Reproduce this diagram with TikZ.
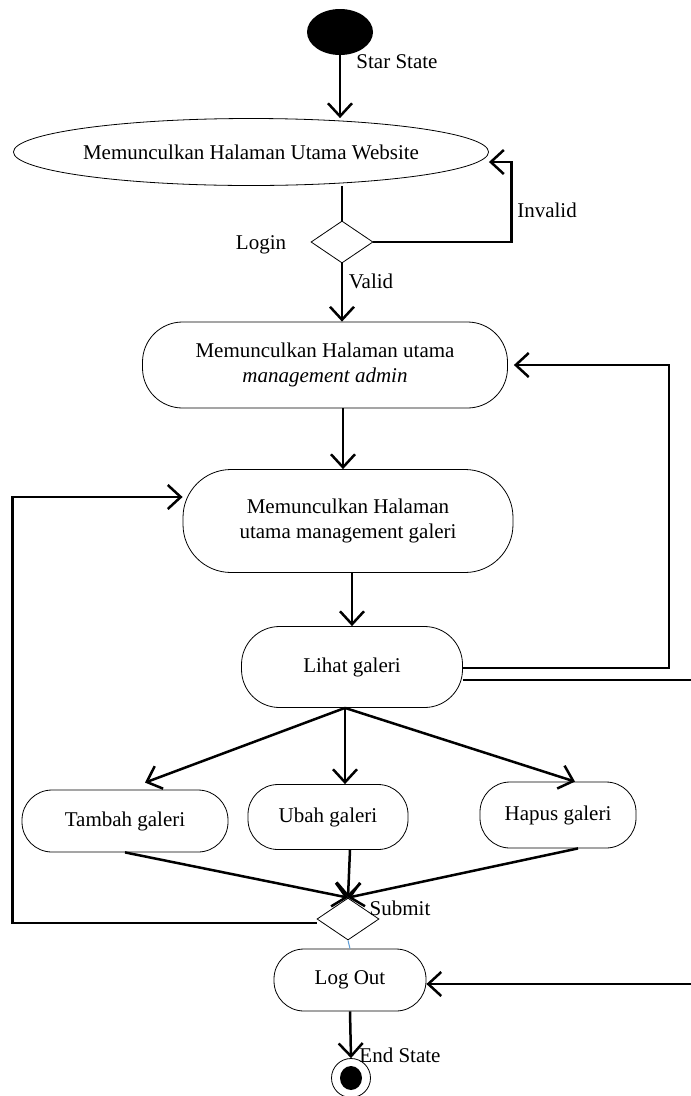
\documentclass[tikz,border=0pt]{standalone}
\usepackage{fontspec}
\setmainfont{Liberation Serif}
\usetikzlibrary{arrows.meta,shapes.geometric}

\begin{document}
\begin{tikzpicture}
  [x=1pt,y=-1pt,font=\fontsize{21}{25}\selectfont,
    act/.style={draw,line width=0.8pt,rounded corners=#1,
      inner sep=0pt,align=center},
    dec/.style={draw,diamond,line width=0.8pt,inner sep=0pt,
      minimum width=62pt,minimum height=42pt},
    con/.style={line width=2.5pt,
      -{Straight Barb[length=13pt,width=24pt,line width=2.5pt]}},
    lin/.style={line width=2.5pt},
    lab/.style={inner sep=0pt}]
  \useasboundingbox (0,0) rectangle (691,1096);
  \node[fill,ellipse,inner sep=0pt,minimum width=66pt,
    minimum height=46pt] (start) at (340,32) {};
  \node[lab] (startlab) at (397,62) {Star State};
  \node[draw,ellipse,line width=0.8pt,inner sep=0pt,minimum width=458pt,
    minimum height=67pt] (n1) at (251,152) {Memunculkan Halaman Utama Website};
  \node[dec] (d1) at (342,242) {};
  \node[lab] (login) at (261,245) {Login};
  \node[lab] (invalid) at (547,210) {Invalid};
  \node[lab] (valid) at (371,281) {Valid};
  \node[act=40pt,minimum width=365pt,minimum height=86pt] (n2) at (325,365)
    {Memunculkan Halaman utama\\\textit{management admin}};
  \node[act=48pt,minimum width=330pt,minimum height=103pt] (n3) at (348,521)
    {Memunculkan Halaman\\utama management galeri};
  \node[act=38pt,minimum width=221pt,minimum height=81pt] (n4) at (352,667)
    {Lihat galeri};
  \node[act=30pt,minimum width=206pt,minimum height=62pt] (n5) at (125,821)
    {Tambah galeri};
  \node[act=30pt,minimum width=160pt,minimum height=65pt] (n6) at (328,817)
    {Ubah galeri};
  \node[act=30pt,minimum width=156pt,minimum height=66pt] (n7) at (558,815)
    {Hapus galeri};
  \node[dec] (d2) at (348,919) {};
  \node[lab] (submit) at (400,908) {Submit};
  \node[act=30pt,minimum width=152pt,minimum height=62pt] (n8) at (350,980)
    {Log Out};
  \node[draw,circle,line width=0.8pt,inner sep=0pt,minimum size=39pt]
    (endst) at (351,1078) {};
  \node[fill,ellipse,inner sep=0pt,minimum width=22pt,
    minimum height=24pt] (endin) at (endst) {};
  \node[lab] (endlab) at (400,1055) {End State};

  \draw[con] (start.south) -- (start.south |- n1.north);
  \draw[lin] (d1.north |- n1.south) -- (d1.north);
  \draw[con] (d1.east) -- ++(138,0) |- ([yshift=-10pt]n1.east);
  \draw[con] (d1.south) -- (d1.south |- n2.north);
  \draw[con] ([xshift=18pt]n2.south) -- ([xshift=18pt]n2.south |- n3.north);
  \draw[con] (n3.south -| n4.north) -- (n4.north);
  \draw[con] ([yshift=-1pt]n4.east) -- ++(206,0) |- ([xshift=6pt]n2.east);
  \draw[con] ([yshift=-13pt]n4.east) -- ++(240,0) |- ([yshift=-4pt]n8.east);
  \draw[con] ([xshift=-7pt]n4.south) -- ([xshift=20pt,yshift=7pt]n5.north);
  \draw[con] ([xshift=-7pt]n4.south) -- ([xshift=17pt]n6.north);
  \draw[con] ([xshift=-7pt]n4.south) -- ([xshift=17pt]n7.north);
  \draw[con] (n5.south) -- (d2.north);
  \draw[con] ([xshift=22pt]n6.south) -- (d2.north);
  \draw[con] ([xshift=20pt]n7.south) -- (d2.north);
  \draw[con] ([yshift=-4pt]d2.west) -- ++(-304,0) |- ([yshift=24pt]n3.west);
  \draw[line width=1pt,color={rgb,255:red,91;green,155;blue,213}]
    (d2.south) -- (n8.north);
  \draw[con] (n8.south) -- (endst.north);
\end{tikzpicture}
\end{document}
